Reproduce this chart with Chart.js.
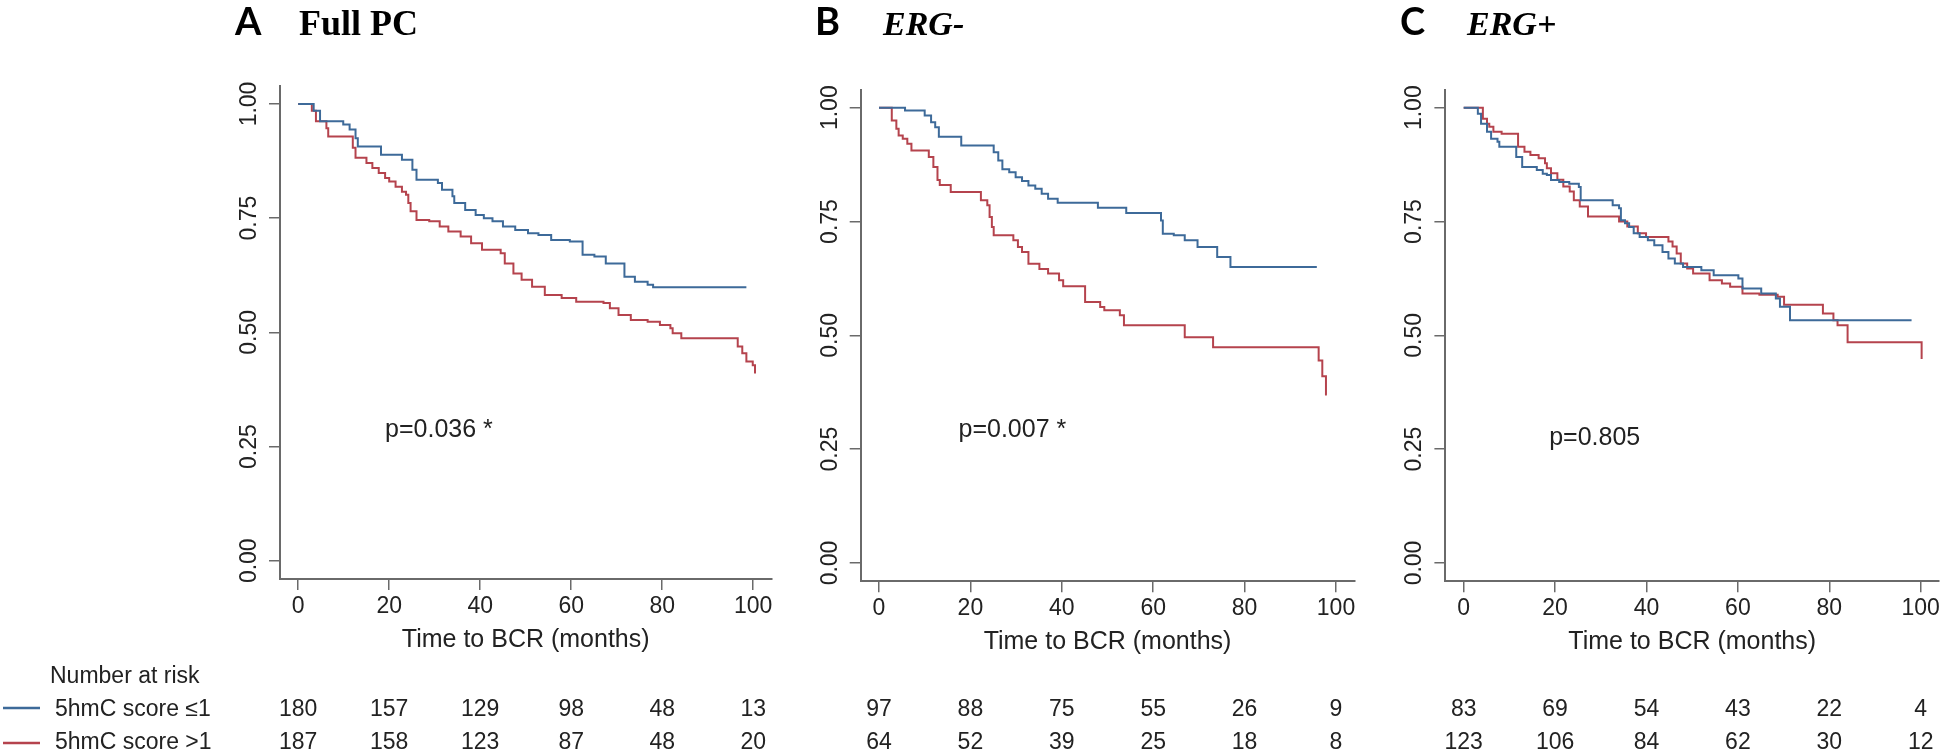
<!DOCTYPE html>
<html>
<head>
<meta charset="utf-8">
<script src="https://cdn.jsdelivr.net/npm/chart.js@4.4.1/dist/chart.umd.min.js"></script>
<style>
  html, body { margin: 0; padding: 0; background: #fff; }
  #wrap { position: relative; width: 1946px; height: 756px; overflow: hidden; }
  #wrap canvas { position: absolute; left: 0; top: 0; }
</style>
</head>
<body>
<div id="wrap">
  <canvas id="chartA" width="1946" height="756"></canvas>
  <canvas id="chartB" width="1946" height="756"></canvas>
  <canvas id="chartC" width="1946" height="756"></canvas>
</div>
<script>
var monthTicks = [0, 20, 40, 60, 80, 100];
var survTicks = [0, 0.25, 0.5, 0.75, 1];
var groupNames = ['5hmC score \u22641', '5hmC score >1'];
var lowColor = '#3d6a99';
var highColor = '#b5434d';

// A - Full PC
var fullLowTime = [0, 3.4, 4.8, 9.9, 11.3, 12.6, 13.1, 18.2, 22.8, 25.1, 26, 30.7, 31.6, 33.9, 34.3, 36.7, 39, 40.8, 42.7, 45, 47.7, 50.5, 52.8, 55.6, 59.7, 62.5, 65.1, 67.6, 71.7, 74, 76.8, 78, 98.5];
var fullLowSurv = [1, 0.985, 0.962, 0.955, 0.944, 0.925, 0.907, 0.889, 0.878, 0.856, 0.834, 0.827, 0.812, 0.798, 0.783, 0.768, 0.757, 0.75, 0.743, 0.732, 0.724, 0.717, 0.713, 0.702, 0.699, 0.67, 0.666, 0.651, 0.622, 0.611, 0.604, 0.599, 0.599];
var fullHighTime = [0, 3.0, 3.9, 6.2, 6.6, 12, 12.6, 15, 16.3, 17.7, 19.1, 20, 21.4, 22.8, 23.7, 24.2, 24.7, 26, 28.8, 31.1, 33, 35.7, 38, 40.4, 44.5, 45.4, 47.3, 49.1, 51.4, 54.2, 57.9, 61.1, 67.1, 68.5, 70.4, 73.1, 76.8, 79.5, 81.8, 82.3, 84.2, 96.6, 97.6, 98.5, 99.9, 100.4];
var fullHighSurv = [1, 0.985, 0.962, 0.947, 0.929, 0.904, 0.882, 0.871, 0.86, 0.849, 0.838, 0.83, 0.819, 0.808, 0.801, 0.783, 0.765, 0.746, 0.743, 0.732, 0.721, 0.71, 0.695, 0.681, 0.673, 0.651, 0.629, 0.615, 0.6, 0.582, 0.575, 0.567, 0.564, 0.553, 0.538, 0.527, 0.523, 0.516, 0.509, 0.498, 0.487, 0.469, 0.454, 0.436, 0.428, 0.41];
var fullRiskLow = [180, 157, 129, 98, 48, 13];
var fullRiskHigh = [187, 158, 123, 87, 48, 20];

// B - ERG-
var negLowTime = [0, 5.7, 10, 11.4, 12.3, 13.1, 18, 25.1, 26.1, 27, 28.5, 29.9, 31.3, 32.7, 34.2, 35.6, 37, 39.1, 47.9, 54.1, 61.7, 62.1, 64.5, 66.9, 69.7, 74, 76.9, 95.8];
var negLowSurv = [1, 0.994, 0.983, 0.968, 0.957, 0.936, 0.917, 0.902, 0.884, 0.865, 0.858, 0.847, 0.839, 0.829, 0.822, 0.811, 0.8, 0.791, 0.78, 0.769, 0.752, 0.723, 0.72, 0.709, 0.694, 0.672, 0.65, 0.65];
var negHighTime = [0, 2.8, 3.8, 4.3, 5.2, 6.2, 7.1, 10.9, 11.9, 12.8, 13.3, 15.7, 22.3, 23.7, 24.2, 24.7, 25.1, 29.4, 30.4, 31.3, 32.7, 35.1, 37, 39.4, 40.3, 45.1, 48.4, 49.3, 52.7, 53.6, 66.9, 73.1, 96.2, 97, 97.8, 98];
var negHighSurv = [1, 0.972, 0.954, 0.939, 0.932, 0.921, 0.906, 0.892, 0.87, 0.841, 0.83, 0.815, 0.797, 0.786, 0.76, 0.738, 0.72, 0.709, 0.694, 0.683, 0.657, 0.646, 0.636, 0.621, 0.608, 0.573, 0.562, 0.555, 0.544, 0.522, 0.496, 0.474, 0.445, 0.41, 0.37, 0.37];
var negRiskLow = [97, 88, 75, 55, 26, 9];
var negRiskHigh = [64, 52, 39, 25, 18, 8];

// C - ERG+
var posLowTime = [0, 3.1, 3.8, 5.1, 6, 7.4, 7.8, 11.5, 12.8, 16, 17.3, 18.2, 19.1, 20.9, 23.1, 25.2, 25.6, 32.6, 34, 34.4, 35.3, 36.2, 37.2, 38.5, 40.3, 41.7, 43.5, 44.8, 46.2, 48, 52, 54.7, 60.1, 61, 65.1, 68.3, 69.2, 71.4, 98];
var posLowSurv = [1, 0.987, 0.965, 0.947, 0.932, 0.925, 0.914, 0.892, 0.87, 0.863, 0.855, 0.852, 0.841, 0.837, 0.833, 0.826, 0.797, 0.786, 0.779, 0.753, 0.746, 0.738, 0.724, 0.716, 0.709, 0.698, 0.683, 0.669, 0.658, 0.65, 0.643, 0.632, 0.625, 0.603, 0.592, 0.581, 0.563, 0.533, 0.533];
var posHighTime = [0, 4.2, 5.1, 5.6, 6.5, 8.3, 11.9, 13.3, 14.6, 16.4, 17.8, 18.2, 19.1, 20.5, 21.8, 23.2, 24.1, 25.4, 27.2, 34, 35.8, 38.1, 39.9, 44.8, 45.7, 46.6, 47.5, 48.9, 50.2, 53.8, 56.5, 58.3, 61, 64.7, 68.7, 70.1, 78.6, 80.9, 81.8, 84, 100, 100.2];
var posHighSurv = [1, 0.976, 0.965, 0.958, 0.947, 0.943, 0.914, 0.903, 0.896, 0.889, 0.878, 0.867, 0.856, 0.842, 0.827, 0.816, 0.797, 0.783, 0.761, 0.75, 0.739, 0.724, 0.716, 0.706, 0.695, 0.68, 0.658, 0.647, 0.636, 0.621, 0.614, 0.607, 0.592, 0.589, 0.585, 0.567, 0.548, 0.533, 0.522, 0.485, 0.485, 0.448];
var posRiskLow = [83, 69, 54, 43, 22, 4];
var posRiskHigh = [123, 106, 84, 62, 30, 12];

var sansFont = '"Liberation Sans", Arial, sans-serif';
var textColor = '#222';
var axisColor = '#6a6a6a';

function toPoints(times, surv) {
  return times.map(function(t, i) { return {x: t, y: surv[i]}; });
}

function panelOverlay(info) {
  return {
    id: 'overlay' + info.letter,
    afterDraw: function(chart) {
      var ctx = chart.ctx;
      var xs = chart.scales.x;
      var ys = chart.scales.y;
      ctx.save();
      // panel heading
      ctx.fillStyle = '#000';
      ctx.textBaseline = 'alphabetic';
      ctx.textAlign = 'left';
      ctx.font = 'bold 38px Lato, "Open Sans", sans-serif';
      ctx.fillText(info.letter, info.letterX, 35);
      ctx.font = info.subFont;
      ctx.fillText(info.sub, info.subX, 35);

      // p-value
      ctx.fillStyle = textColor;
      ctx.font = '25px ' + sansFont;
      ctx.textBaseline = 'middle';
      ctx.fillText(info.pText, xs.getPixelForValue(info.pAt[0]), ys.getPixelForValue(info.pAt[1]));

      // number at risk
      ctx.font = '23px ' + sansFont;
      ctx.textAlign = 'center';
      monthTicks.forEach(function(m, i) {
        var px = xs.getPixelForValue(m);
        ctx.fillText(String(info.riskLow[i]), px, 710);
        ctx.fillText(String(info.riskHigh[i]), px, 743);
      });

      if (info.showLabels) {
        ctx.textAlign = 'left';
        ctx.fillText('Number at risk', 50, 677);
        ctx.fillText(groupNames[0], 55, 710);
        ctx.fillText(groupNames[1], 55, 743);
        ctx.lineWidth = 2.5;
        ctx.strokeStyle = lowColor;
        ctx.beginPath(); ctx.moveTo(3, 708); ctx.lineTo(40, 708); ctx.stroke();
        ctx.strokeStyle = highColor;
        ctx.beginPath(); ctx.moveTo(3, 743); ctx.lineTo(40, 743); ctx.stroke();
      }
      ctx.restore();
    }
  };
}

function makePanel(id, area, lowT, lowS, highT, highS, info) {
  var yAxisW = 70, xAxisH = 80;
  return new Chart(document.getElementById(id), {
    type: 'line',
    data: {
      datasets: [{
        label: groupNames[0],
        data: toPoints(lowT, lowS),
        borderColor: lowColor,
        borderWidth: 2,
        pointRadius: 0,
        stepped: true,
        fill: false
      }, {
        label: groupNames[1],
        data: toPoints(highT, highS),
        borderColor: highColor,
        borderWidth: 2,
        pointRadius: 0,
        stepped: true,
        fill: false
      }]
    },
    options: {
      responsive: false,
      animation: false,
      devicePixelRatio: 1,
      layout: {
        padding: {
          left: area.left - yAxisW,
          right: 1946 - area.right,
          top: area.top,
          bottom: 756 - area.bottom - xAxisH
        }
      },
      plugins: { legend: { display: false }, tooltip: { enabled: false } },
      scales: {
        x: {
          type: 'linear',
          min: -4,
          max: 104,
          afterBuildTicks: function(s) { s.ticks = monthTicks.map(function(v) { return {value: v}; }); },
          afterFit: function(s) { s.height = xAxisH; },
          grid: { drawOnChartArea: false, drawTicks: true, tickLength: 11, color: axisColor, lineWidth: 1.5 },
          border: { display: true, color: axisColor, width: 2 },
          ticks: { color: textColor, font: { family: sansFont, size: 23 }, padding: 3, maxRotation: 0, autoSkip: false },
          title: { display: true, text: 'Time to BCR (months)', color: textColor, font: { family: sansFont, size: 25 }, padding: { top: 0, bottom: 4 } }
        },
        y: {
          type: 'linear',
          min: -0.04,
          max: 1.04,
          afterBuildTicks: function(s) { s.ticks = survTicks.map(function(v) { return {value: v}; }); },
          afterFit: function(s) { s.width = yAxisW; },
          grid: { drawOnChartArea: false, drawTicks: true, tickLength: 11, color: axisColor, lineWidth: 1.5 },
          border: { display: true, color: axisColor, width: 2 },
          ticks: {
            color: textColor,
            font: { family: sansFont, size: 23 },
            minRotation: 90,
            maxRotation: 90,
            crossAlign: 'center',
            padding: -3,
            callback: function(v) { return Number(v).toFixed(2); }
          }
        }
      }
    },
    plugins: [panelOverlay(info)]
  });
}

makePanel('chartA', { left: 280, right: 771.4, top: 85.7, bottom: 579 },
  fullLowTime, fullLowSurv, fullHighTime, fullHighSurv, {
    letter: 'A', letterX: 235, sub: 'Full PC', subX: 299,
    subFont: 'bold 36px "Liberation Serif", serif',
    pText: 'p=0.036 *', pAt: [19.1, 0.286],
    riskLow: fullRiskLow, riskHigh: fullRiskHigh, showLabels: true
  });

makePanel('chartB', { left: 860.7, right: 1354.3, top: 89.5, bottom: 581.2 },
  negLowTime, negLowSurv, negHighTime, negHighSurv, {
    letter: 'B', letterX: 815, sub: 'ERG-', subX: 883,
    subFont: 'italic bold 34px "Liberation Serif", serif',
    pText: 'p=0.007 *', pAt: [17.4, 0.292],
    riskLow: negRiskLow, riskHigh: negRiskHigh, showLabels: false
  });

makePanel('chartC', { left: 1445.4, right: 1939, top: 89.5, bottom: 581.2 },
  posLowTime, posLowSurv, posHighTime, posHighSurv, {
    letter: 'C', letterX: 1400, sub: 'ERG+', subX: 1467,
    subFont: 'italic bold 34px "Liberation Serif", serif',
    pText: 'p=0.805', pAt: [18.7, 0.274],
    riskLow: posRiskLow, riskHigh: posRiskHigh, showLabels: false
  });
</script>
</body>
</html>
